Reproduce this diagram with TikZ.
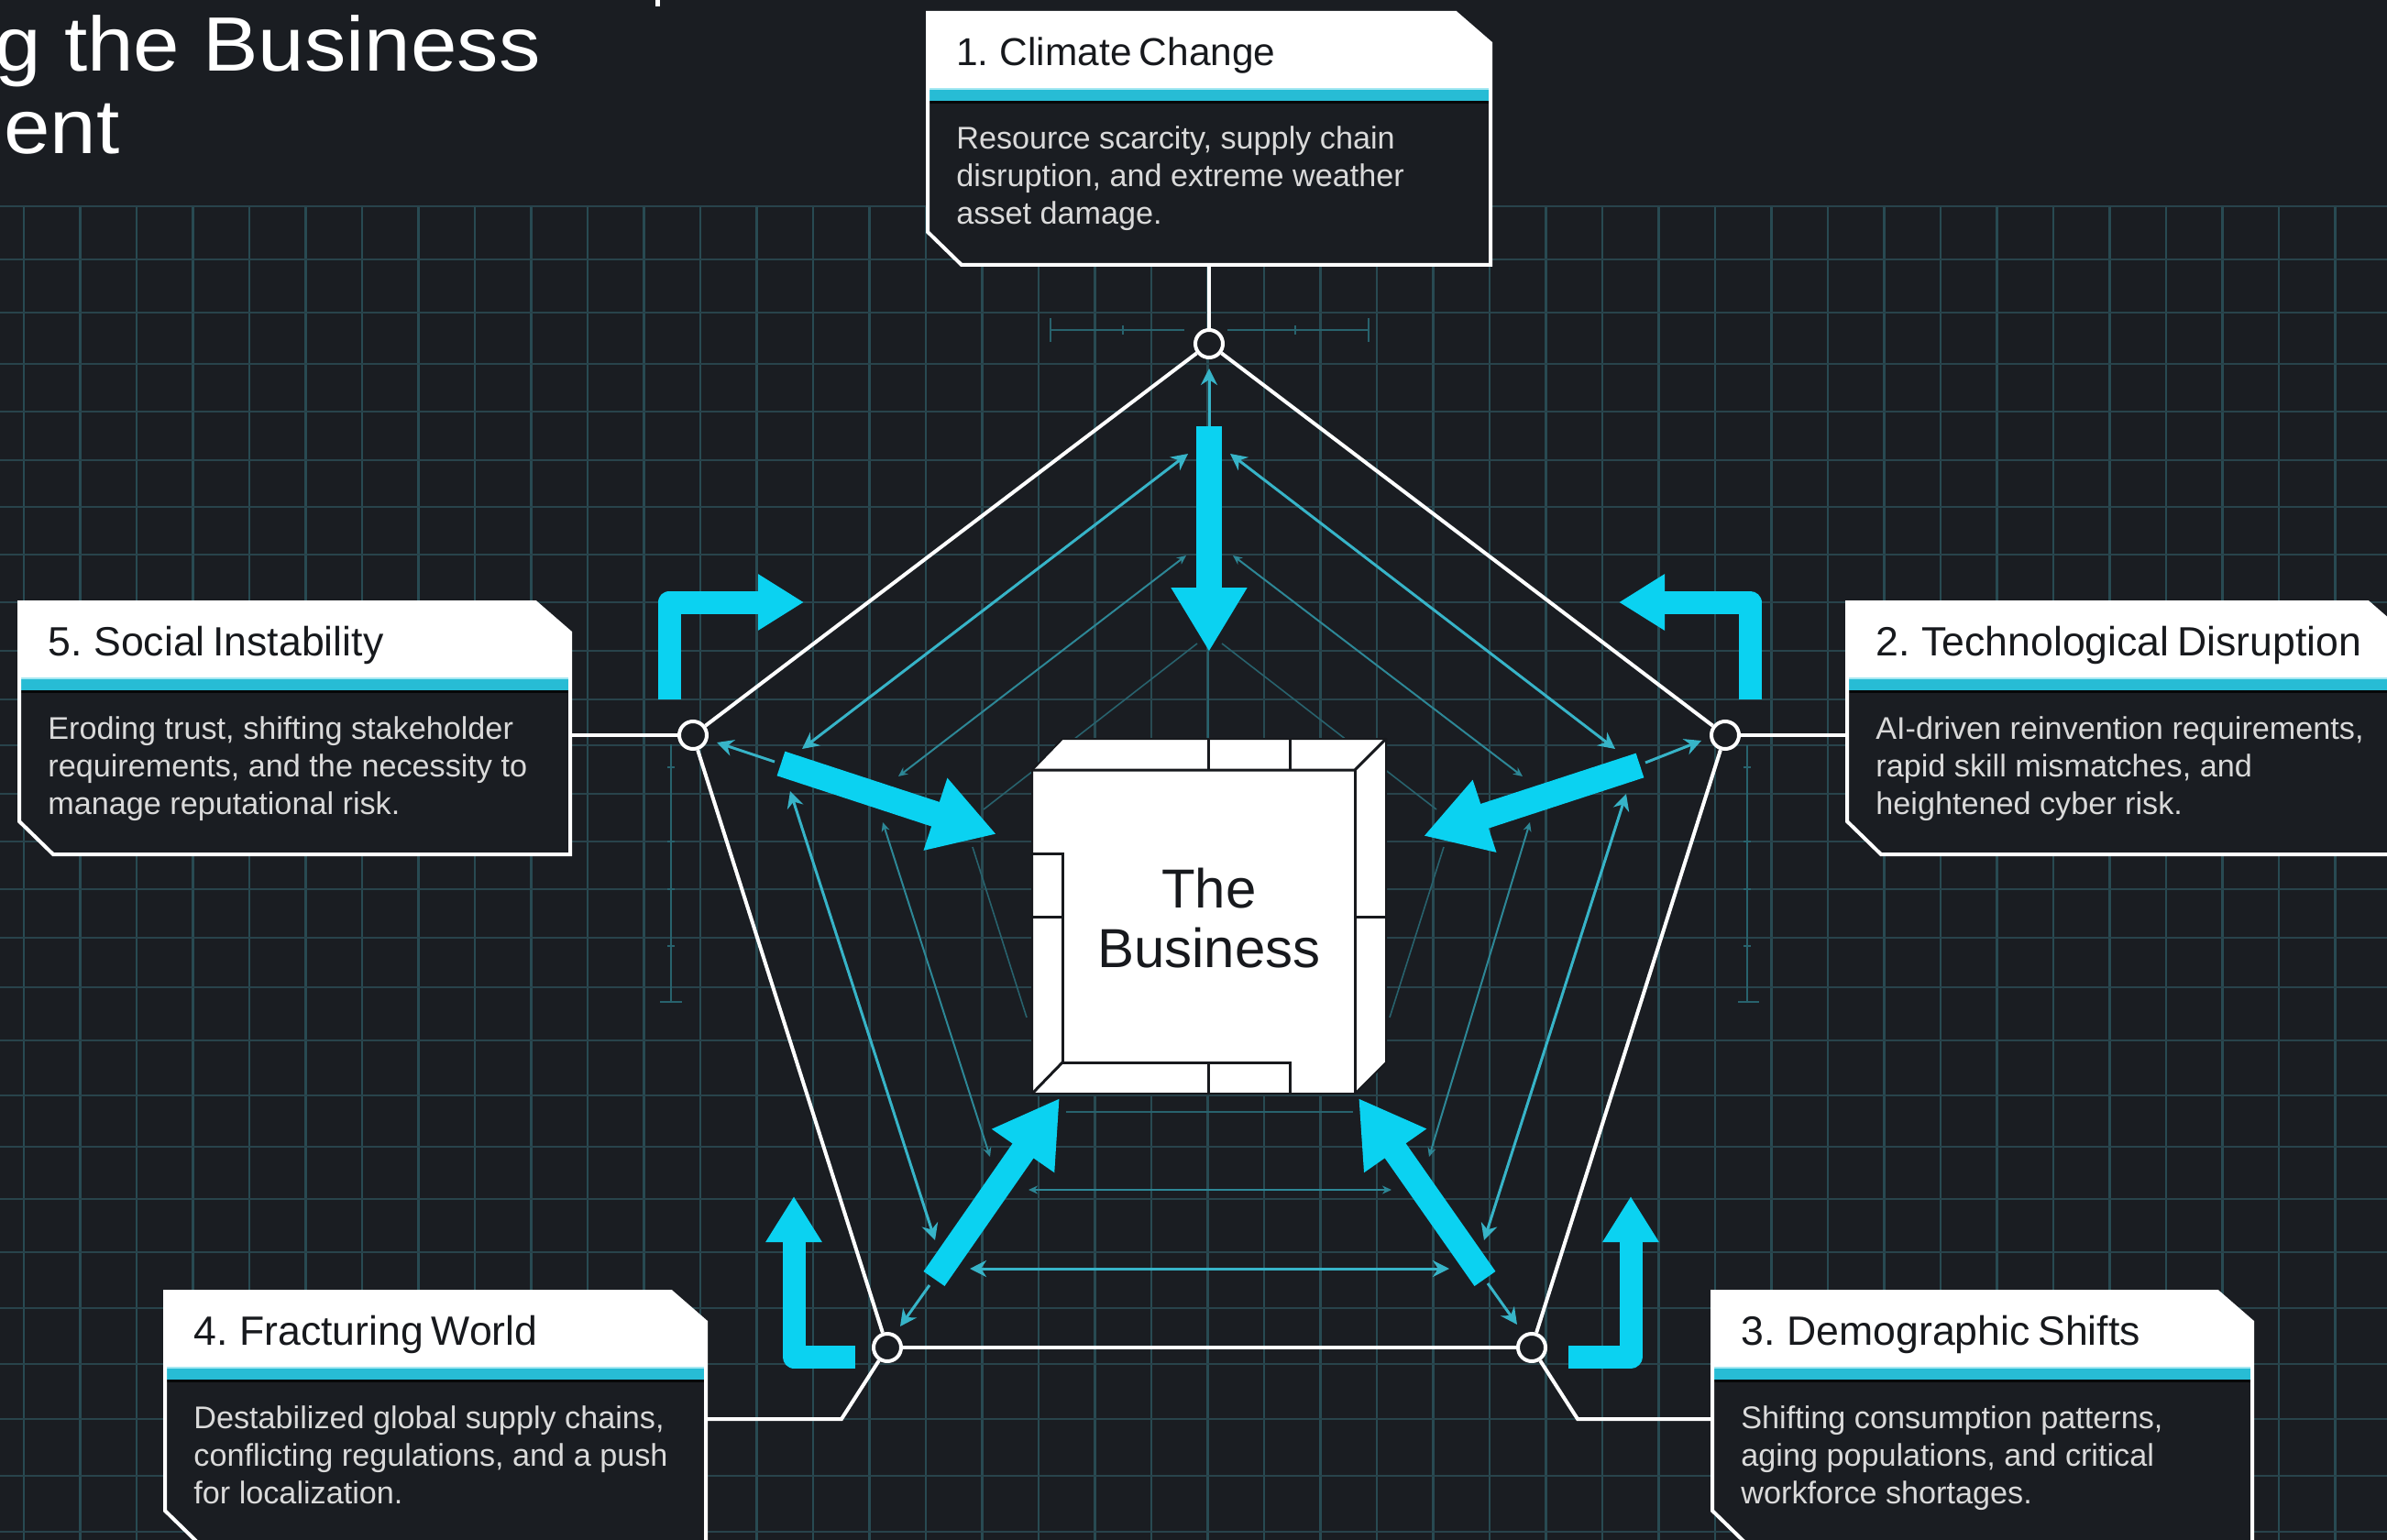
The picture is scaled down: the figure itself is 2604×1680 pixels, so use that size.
\documentclass[tikz,border=0pt]{standalone}
\usepackage{fontspec}
\setmainfont{Liberation Sans}
\newfontfamily\titlefont[WordSpace=0.7]{Liberation Sans}
\usetikzlibrary{arrows.meta}
\definecolor{bgdark}{HTML}{1A1D22}
\definecolor{gridv}{HTML}{284A52}
\definecolor{gridh}{HTML}{28434B}
\definecolor{cyanbold}{HTML}{0BD2F1}
\definecolor{cyanmid}{HTML}{37B4C8}
\definecolor{cyanlow}{HTML}{2D8796}
\definecolor{cyandim}{HTML}{28626D}
\definecolor{stripc}{HTML}{27BCD5}
\definecolor{stripl}{HTML}{A5E8F2}
\definecolor{bodytxt}{HTML}{DADADA}
\definecolor{inkc}{HTML}{17191D}
\tikzset{
  gridvline/.style={gridv,line width=1.3pt},
  gridhline/.style={gridh,line width=1.4pt},
  wire/.style={white,line width=2pt,line join=miter},
  hub/.style={circle,draw=white,fill=bgdark,line width=2pt,minimum size=15pt,inner sep=0pt},
  bigarrow/.style={cyanbold,line width=14pt,-{Triangle[length=35pt,width=39pt]}},
  elbow/.style={cyanbold,line width=12.5pt,line join=round,-{Triangle[length=25pt,width=29pt]}},
  outerlink/.style={cyanmid,line width=1.5pt,{Stealth[length=9pt,width=9pt]}-{Stealth[length=9pt,width=9pt]}},
  innerlink/.style={cyanlow,line width=1pt,{Stealth[length=5pt,width=4.5pt]}-{Stealth[length=5pt,width=4.5pt]}},
  faintlink/.style={cyandim,line width=0.8pt},
  outlet/.style={cyanmid,line width=1.5pt,-{Stealth[length=9pt,width=9pt]}},
  dimline/.style={cyandim,line width=1pt},
  paneltitle/.style={anchor=base west,inner sep=0pt,text=inkc,font=\titlefont\fontsize{22.3}{26}\selectfont},
  panelbody/.style={anchor=base west,inner sep=0pt,text=bodytxt,font=\fontsize{17.1}{20.6}\selectfont},
  headline/.style={anchor=base east,inner sep=0pt,text=white,font=\fontsize{42}{50}\selectfont},
  edgeblk/.style={inkc,line width=1.5pt},
}
% #1 name, #2 left, #3 right, #4 top, #5 title, #6-#8 body lines
\newcommand{\infopanel}[8]{%
  \pgfmathsetmacro\pnlA{#3-39}\pgfmathsetmacro\pnlB{#4+35}\pgfmathsetmacro\pnlC{#4+86}
  \pgfmathsetmacro\pnlD{#4+98}\pgfmathsetmacro\pnlE{#4+241}\pgfmathsetmacro\pnlF{#4+277}
  \pgfmathsetmacro\pnlG{#2+38}\pgfmathsetmacro\pnlH{#2+32}
  \pgfmathsetmacro\pnlI{#4+60}\pgfmathsetmacro\pnlJ{#4+151}\pgfmathsetmacro\pnlK{#4+192}\pgfmathsetmacro\pnlL{#4+233}
  \pgfmathsetmacro\pnlM{#4+84}\pgfmathsetmacro\pnlN{#4+101}
  \pgfmathsetmacro\pnlT{#4+2}\pgfmathsetmacro\pnlP{#2+1}\pgfmathsetmacro\pnlQ{#3-1}
  \fill[bgdark] (\pnlP,\pnlT) -- (\pnlA,\pnlT) -- (\pnlQ,\pnlB) -- (\pnlQ,\pnlF) -- (\pnlG,\pnlF) -- (\pnlP,\pnlE) -- cycle;
  \fill[white] (\pnlP,\pnlT) -- (\pnlA,\pnlT) -- (\pnlQ,\pnlB) -- (\pnlQ,\pnlC) -- (\pnlP,\pnlC) -- cycle;
  \fill[stripl] (\pnlP,\pnlM) rectangle (\pnlQ,\pnlC);
  \fill[stripc] (\pnlP,\pnlC) rectangle (\pnlQ,\pnlD);
  \fill[black!75!bgdark] (\pnlP,\pnlD) rectangle (\pnlQ,\pnlN);
  \draw[wire] (\pnlP,\pnlT) -- (\pnlA,\pnlT) -- (\pnlQ,\pnlB) -- (\pnlQ,\pnlF) -- (\pnlG,\pnlF) -- (\pnlP,\pnlE) -- cycle;
  \node[paneltitle] (#1title) at (\pnlH,\pnlI) {#5};
  \node[panelbody] (#1lineA) at (\pnlH,\pnlJ) {#6};
  \node[panelbody] (#1lineB) at (\pnlH,\pnlK) {#7};
  \node[panelbody] (#1lineC) at (\pnlH,\pnlL) {#8};
}
\begin{document}
\begin{tikzpicture}[x=0.5pt,y=-0.5pt]
\useasboundingbox (0,0) rectangle (2604,1680);
\clip (0,0) rectangle (2604,1680);
\fill[bgdark] (0,0) rectangle (2604,1680);

% grid
\foreach \n in {0,...,41} {\pgfmathsetmacro\gx{26+61.5*\n}\draw[gridvline] (\gx,225) -- (\gx,1680);}
\foreach \gy in {225,283,341,397,449,502,553,605,657,710,763,813,866,918,970,1023,1077,1135,1195,1251,1308,1366,1427,1488,1548,1610,1671}
  {\draw[gridhline] (0,\gy) -- (2604,\gy);}

% headline fragments
\fill[white] (715,0) rectangle (720,7);
\node[headline] (headA) at (590,78) {\addfontfeature{FakeStretch=1.08}g the Business};
\node[headline] (headB) at (131,168) {\addfontfeature{FakeStretch=1.08}ent};

% hubs
\node[hub] (hubT) at (1319,375) {};
\node[hub] (hubR) at (1882,802) {};
\node[hub] (hubD) at (1671,1470) {};
\node[hub] (hubF) at (968,1470) {};
\node[hub] (hubS) at (756,802) {};

% panel anchor points and bends
\coordinate (portT) at (1319,289);
\coordinate (portR) at (2015,802);
\coordinate (portD) at (1868,1548);
\coordinate (bendD) at (1721,1548);
\coordinate (portF) at (770,1548);
\coordinate (bendF) at (918,1548);
\coordinate (portS) at (622,802);

% dimension marks
\draw[dimline] (1146,360) -- (1292,360);
\draw[dimline] (1339,360) -- (1493,360);
\draw[dimline] (1146,347) -- (1146,373);
\draw[dimline] (1493,347) -- (1493,373);
\draw[dimline] (1225,355) -- (1225,365);
\draw[dimline] (1413,355) -- (1413,365);
\draw[dimline] (1906,813) -- (1906,1093);
\draw[dimline] (1896,1093) -- (1919,1093);
\foreach \ty in {837,918,970,1032} {\draw[dimline] (1902,\ty) -- (1910,\ty);}
\draw[dimline] (732,812) -- (732,1093);
\draw[dimline] (720,1093) -- (744,1093);
\foreach \ty in {837,918,970,1032} {\draw[dimline] (728,\ty) -- (736,\ty);}

% faint inner network
\coordinate (fa1) at (1306,702); \coordinate (fa2) at (1073,883);
\coordinate (fb1) at (1333,702); \coordinate (fb2) at (1567,883);
\coordinate (fc1) at (1061,924); \coordinate (fc2) at (1120,1110);
\coordinate (fd1) at (1575,924); \coordinate (fd2) at (1516,1110);
\coordinate (fe1) at (1163,1213); \coordinate (fe2) at (1476,1213);
\coordinate (ff1) at (1318,702); \coordinate (ff2) at (1318,806);
\foreach \a/\b in {fa1/fa2,fb1/fb2,fc1/fc2,fd1/fd2,fe1/fe2,ff1/ff2} {\draw[faintlink] (\a) -- (\b);}

% middle network
\coordinate (ia1) at (1294,606); \coordinate (ia2) at (980,847);
\coordinate (ib1) at (1345,606); \coordinate (ib2) at (1661,847);
\coordinate (ic1) at (963,897); \coordinate (ic2) at (1080,1262);
\coordinate (id1) at (1669,897); \coordinate (id2) at (1559,1262);
\coordinate (ie1) at (1122,1298); \coordinate (ie2) at (1518,1298);
\foreach \a/\b in {ia1/ia2,ib1/ib2,ic1/ic2,id1/id2,ie1/ie2} {\draw[innerlink] (\a) -- (\b);}

% outer network
\coordinate (oa1) at (1296,495); \coordinate (oa2) at (875,817);
\coordinate (ob1) at (1342,495); \coordinate (ob2) at (1762,817);
\coordinate (oc1) at (862,863); \coordinate (oc2) at (1020,1353);
\coordinate (od1) at (1774,866); \coordinate (od2) at (1619,1353);
\coordinate (oe1) at (1058,1384); \coordinate (oe2) at (1581,1384);
\foreach \a/\b in {oa1/oa2,ob1/ob2,oc1/oc2,od1/od2,oe1/oe2} {\draw[outerlink] (\a) -- (\b);}

% outlets towards hubs
\coordinate (ltT) at (1319,465); \coordinate (lhT) at (1319,402);
\coordinate (ltS) at (845,831); \coordinate (lhS) at (782,810);
\coordinate (ltR) at (1795,832); \coordinate (lhR) at (1856,808);
\coordinate (ltF) at (1014,1402); \coordinate (lhF) at (982,1447);
\coordinate (ltD) at (1623,1400); \coordinate (lhD) at (1655,1445);
\foreach \a/\b in {ltT/lhT,ltS/lhS,ltR/lhR,ltF/lhF,ltD/lhD} {\draw[outlet] (\a) -- (\b);}

% pentagon and leader wires
\draw[wire] (hubT) -- (hubR);
\draw[wire] (hubR) -- (hubD);
\draw[wire] (hubD) -- (hubF);
\draw[wire] (hubF) -- (hubS);
\draw[wire] (hubS) -- (hubT);
\draw[wire] (hubT) -- (portT);
\draw[wire] (hubR) -- (portR);
\draw[wire] (hubD) -- (bendD) -- (portD);
\draw[wire] (hubF) -- (bendF) -- (portF);
\draw[wire] (hubS) -- (portS);

% thick inward arrows
\coordinate (btT) at (1319,465); \coordinate (bhT) at (1319,711);
\coordinate (btR) at (1789,835); \coordinate (bhR) at (1553,912);
\coordinate (btS) at (852,833); \coordinate (bhS) at (1087,910);
\coordinate (btF) at (1019,1395); \coordinate (bhF) at (1156,1198);
\coordinate (btD) at (1620,1395); \coordinate (bhD) at (1482,1198);
\foreach \a/\b in {btT/bhT,btR/bhR,btS/bhS,btF/bhF,btD/bhD} {\draw[bigarrow] (\a) -- (\b);}

% elbow arrows
\coordinate (esA) at (730,763); \coordinate (esB) at (730,657); \coordinate (esC) at (877,657);
\coordinate (erA) at (1909,763); \coordinate (erB) at (1909,657); \coordinate (erC) at (1766,657);
\coordinate (efA) at (933,1480); \coordinate (efB) at (866,1480); \coordinate (efC) at (866,1305);
\coordinate (edA) at (1711,1480); \coordinate (edB) at (1779,1480); \coordinate (edC) at (1779,1305);
\draw[elbow] (esA) -- (esB) -- (esC);
\draw[elbow] (erA) -- (erB) -- (erC);
\draw[elbow] (efA) -- (efB) -- (efC);
\draw[elbow] (edA) -- (edB) -- (edC);

% central block
\fill[white,draw=inkc,line width=1pt,line join=round] (1126,840) -- (1159,806) -- (1512,806) -- (1512,1159) -- (1478,1193) -- (1126,1193) -- cycle;
\draw[edgeblk] (1126,840) -- (1478,840) -- (1512,806);
\draw[edgeblk] (1478,840) -- (1478,1193);
\draw[edgeblk] (1318,806) -- (1318,840);
\draw[edgeblk] (1407,806) -- (1407,840);
\draw[edgeblk] (1478,1000) -- (1512,1000);
\draw[edgeblk] (1126,931) -- (1159,931) -- (1159,1159) -- (1407,1159) -- (1407,1193);
\draw[edgeblk] (1318,1159) -- (1318,1193);
\draw[edgeblk] (1126,1000) -- (1159,1000);
\draw[edgeblk] (1126,1193) -- (1159,1159);
\node[align=center,inner sep=0pt,text=inkc,font=\fontsize{30}{32.5}\selectfont] (bizcore) at (1319,1002) {The\\Business};

% panels
\infopanel{pA}{1011}{1627}{12}{{\fontsize{21.2}{25}\selectfont 1. Climate Change}}{Resource scarcity, supply chain}{disruption, and extreme weather}{asset damage.}
\infopanel{pB}{2014}{2622}{655}{2. Technological Disruption}{AI-driven reinvention requirements,}{rapid skill mismatches, and}{heightened cyber risk.}
\infopanel{pC}{1867}{2458}{1407}{3. Demographic Shifts}{Shifting consumption patterns,}{aging populations, and critical}{workforce shortages.}
\infopanel{pD}{179}{771}{1407}{4. Fracturing World}{Destabilized global supply chains,}{conflicting regulations, and a push}{for localization.}
\infopanel{pE}{20}{623}{655}{5. Social Instability}{Eroding trust, shifting stakeholder}{requirements, and the necessity to}{manage reputational risk.}
\end{tikzpicture}
\end{document}
